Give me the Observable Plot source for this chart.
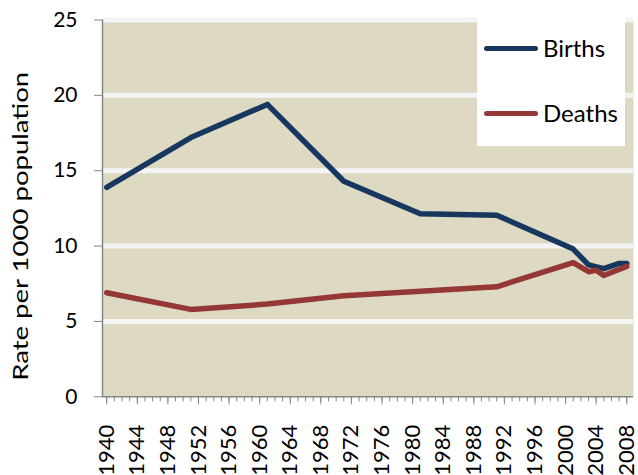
<!DOCTYPE html>
<html>
<head>
<meta charset="utf-8">
<script src="https://cdn.jsdelivr.net/npm/d3@7"></script>
<script src="https://cdn.jsdelivr.net/npm/@observablehq/plot@0.6"></script>
<style>
  html, body { margin: 0; padding: 0; background: #ffffff; }
  #wrap { position: relative; width: 638px; height: 475px; overflow: hidden; font-family: Lato, sans-serif; }
  #legend { position: absolute; left: 477px; top: 17px; width: 148px; height: 129px; background: #ffffff; }
  .sw { position: absolute; left: 7px; width: 54px; height: 5px; border-radius: 3px; }
  .lt { position: absolute; left: 66px; font-size: 24px; line-height: 24px; color: #000; white-space: nowrap; }
</style>
</head>
<body>
<div id="wrap"></div>
<script>
// ---- data ----
const birthYears = [1940, 1951, 1961, 1971, 1981, 1991, 2001, 2003, 2005, 2007, 2008];
const births     = [13.9, 17.2, 19.4, 14.3, 12.15, 12.05, 9.8, 8.75, 8.5, 8.85, 8.85];
const deathYears = [1940, 1951, 1961, 1971, 1981, 1991, 2001, 2003, 2004, 2005, 2008];
const deaths     = [6.9, 5.8, 6.15, 6.7, 7.0, 7.3, 8.9, 8.3, 8.4, 8.05, 8.65];
const seriesNames = ["Births", "Deaths"];
const seriesColors = ["#17375E", "#953735"];
const yTicks = [0, 5, 10, 15, 20, 25];
const allYears = d3.range(1940, 2009);
const labelYears = d3.range(1940, 2009, 4);
const yLabel = "Rate per 1000 population";

const rows = [
  ...birthYears.map((yr, i) => ({year: yr, value: births[i], series: seriesNames[0]})),
  ...deathYears.map((yr, i) => ({year: yr, value: deaths[i], series: seriesNames[1]}))
];

const chart = Plot.plot({
  width: 638,
  height: 475,
  marginLeft: 102,
  marginRight: 5,
  marginTop: 19.5,
  marginBottom: 78.7,
  style: {fontFamily: "Lato, sans-serif", background: "transparent", overflow: "visible"},
  x: {type: "linear", domain: [1939.45, 2008.88], axis: null},
  y: {domain: [0, 25], axis: null},
  color: {domain: seriesNames, range: seriesColors},
  marks: [
    Plot.frame({fill: "#DDD9C3", stroke: null}),
    Plot.ruleY(yTicks.filter(d => d > 0), {stroke: "#F4F4F4", strokeWidth: 5}),
    Plot.ruleY([0], {stroke: "#868686", strokeWidth: 1.5}),
    Plot.ruleX([1939.45], {stroke: "#868686", strokeWidth: 1.5}),
    Plot.axisX({ticks: allYears, tickSize: 5, tickFormat: () => "", stroke: "#868686", label: null}),
    Plot.axisX({ticks: labelYears, tickSize: 8, tickRotate: -90, tickPadding: 20, fontSize: 22,
                tickFormat: d => String(d), stroke: "#868686", fill: "#000", label: null}),
    Plot.axisY({ticks: yTicks, tickSize: 8, tickPadding: 17, fontSize: 21,
                stroke: "#868686", fill: "#000", label: null}),
    Plot.text([yLabel], {frameAnchor: "bottom-left", rotate: -90, textAnchor: "start",
                         dx: -75, dy: -16, fontSize: 22, fill: "#000"}),
    Plot.line(rows, {x: "year", y: "value", z: "series", stroke: "series",
                     strokeWidth: 5.5, strokeLinejoin: "round", strokeLinecap: "round"})
  ]
});

d3.select(chart).selectAll("text")
  .filter(function () { return this.textContent === yLabel; })
  .attr("textLength", 309)
  .attr("lengthAdjust", "spacingAndGlyphs");

const wrap = document.getElementById("wrap");
wrap.appendChild(chart);

// legend overlay
const legend = document.createElement("div");
legend.id = "legend";
const swTops = [29, 94];
const txtTops = [19, 84];
seriesNames.forEach((name, i) => {
  const sw = document.createElement("div");
  sw.className = "sw";
  sw.style.top = swTops[i] + "px";
  sw.style.background = seriesColors[i];
  legend.appendChild(sw);
  const t = document.createElement("div");
  t.className = "lt";
  t.style.top = txtTops[i] + "px";
  t.textContent = name;
  legend.appendChild(t);
});
wrap.appendChild(legend);
</script>
</body>
</html>
